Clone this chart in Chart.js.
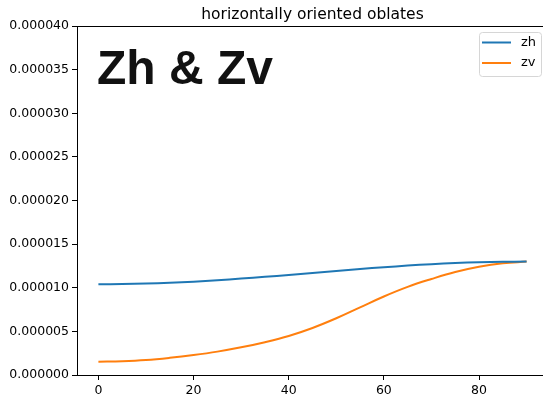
<!DOCTYPE html>
<html>
<head>
<meta charset="utf-8">
<script src="https://cdn.jsdelivr.net/npm/chart.js@4"></script>
<style>
  html, body { margin: 0; padding: 0; background: #fff; overflow: hidden; }
  #wrap { width: 560px; height: 399px; }
</style>
</head>
<body>
<div id="wrap"><canvas id="c" width="560" height="399"></canvas></div>
<script>
// Canting angle in degrees
const angles = [0, 5, 10, 15, 20, 25, 30, 35, 40, 45, 50, 55, 60, 65, 70, 75, 80, 85, 90];
// Horizontal reflectivity
const zh = [1.040e-5, 1.042e-5, 1.048e-5, 1.057e-5, 1.070e-5, 1.086e-5, 1.105e-5, 1.125e-5, 1.147e-5, 1.170e-5,
            1.193e-5, 1.215e-5, 1.235e-5, 1.254e-5, 1.270e-5, 1.283e-5, 1.292e-5, 1.298e-5, 1.300e-5];
// Vertical reflectivity
const zv = [1.52e-6, 1.58e-6, 1.72e-6, 1.97e-6, 2.29e-6, 2.68e-6, 3.17e-6, 3.76e-6, 4.47e-6, 5.39e-6,
            6.50e-6, 7.75e-6, 9.00e-6, 1.010e-5, 1.100e-5, 1.180e-5, 1.240e-5, 1.280e-5, 1.300e-5];
const xTicks = [0, 20, 40, 60, 80];
const yTicks = [0, 5e-6, 1e-5, 1.5e-5, 2e-5, 2.5e-5, 3e-5, 3.5e-5, 4e-5];
const titleText = 'horizontally oriented oblates';
const bigLabel = 'Zh & Zv';

const FONT = '"DejaVu Sans", sans-serif';
const pts = arr => angles.map((a, i) => ({ x: a, y: arr[i] }));

// Title, top spine, in-axes label and legend box
const decor = {
  id: 'decor',
  afterDraw(chart) {
    const ctx = chart.ctx, a = chart.chartArea;
    ctx.save();
    ctx.strokeStyle = '#000';
    ctx.lineWidth = 1;
    ctx.beginPath();
    ctx.moveTo(a.left, a.top + 0.5);
    ctx.lineTo(a.right, a.top + 0.5);
    ctx.lineTo(a.right - 0.5, a.bottom);
    ctx.stroke();

    ctx.fillStyle = '#000';
    ctx.font = '15.5px ' + FONT;
    ctx.textAlign = 'center';
    ctx.textBaseline = 'alphabetic';
    ctx.fillText(titleText, (a.left + a.right) / 2, a.top - 7);

    ctx.font = 'bold 48px "Liberation Sans", Arial, sans-serif';
    ctx.textAlign = 'left';
    ctx.fillStyle = '#111';
    ctx.fillText(bigLabel, a.left + 20, a.top + 58);

    // legend
    const ds = chart.data.datasets;
    const bx = 479, by = 32, bw = 62, bh = 44;
    ctx.fillStyle = 'rgba(255,255,255,0.8)';
    ctx.strokeStyle = '#d6d6d6';
    ctx.lineWidth = 1;
    ctx.beginPath();
    if (ctx.roundRect) ctx.roundRect(bx + 0.5, by + 0.5, bw, bh, 3); else ctx.rect(bx + 0.5, by + 0.5, bw, bh);
    ctx.fill();
    ctx.stroke();
    ctx.font = '13px ' + FONT;
    ctx.textBaseline = 'middle';
    ds.forEach((d, i) => {
      const yy = by + 10.5 + i * 20.5;
      ctx.strokeStyle = d.borderColor;
      ctx.lineWidth = 2;
      ctx.beginPath();
      ctx.moveTo(bx + 3, yy);
      ctx.lineTo(bx + 32, yy);
      ctx.stroke();
      ctx.fillStyle = '#000';
      ctx.fillText(d.label, bx + 42, yy);
    });
    ctx.restore();
  }
};

new Chart(document.getElementById('c'), {
  type: 'line',
  data: {
    datasets: [
      { label: 'zh', data: pts(zh), borderColor: '#1f77b4', borderWidth: 2, pointRadius: 0, tension: 0.4, fill: false },
      { label: 'zv', data: pts(zv), borderColor: '#ff7f0e', borderWidth: 2, pointRadius: 0, tension: 0.4, fill: false }
    ]
  },
  options: {
    responsive: false,
    animation: false,
    layout: { padding: { top: 26, right: 12, left: 0, bottom: 0 } },
    plugins: { legend: { display: false }, title: { display: false }, tooltip: { enabled: false } },
    scales: {
      x: {
        type: 'linear',
        min: -4.5, max: 94.5,
        afterBuildTicks: s => { s.ticks = xTicks.map(v => ({ value: v })); },
        afterFit: s => { s.height = 24; },
        grid: { drawOnChartArea: false, drawTicks: true, tickLength: 5, color: '#000' },
        border: { display: true, color: '#000', width: 1 },
        ticks: { color: '#000', font: { family: FONT, size: 12.5 }, padding: 3, maxRotation: 0, callback: v => String(v) }
      },
      y: {
        type: 'linear',
        min: 0, max: 4e-5,
        afterBuildTicks: s => { s.ticks = yTicks.map(v => ({ value: v })); },
        afterFit: s => { s.width = 77; },
        grid: { drawOnChartArea: false, drawTicks: true, tickLength: 5, color: '#000' },
        border: { display: true, color: '#000', width: 1 },
        ticks: { color: '#000', font: { family: FONT, size: 12.5 }, padding: 3, callback: v => Number(v).toFixed(6) }
      }
    }
  },
  plugins: [decor]
});
</script>
</body>
</html>
